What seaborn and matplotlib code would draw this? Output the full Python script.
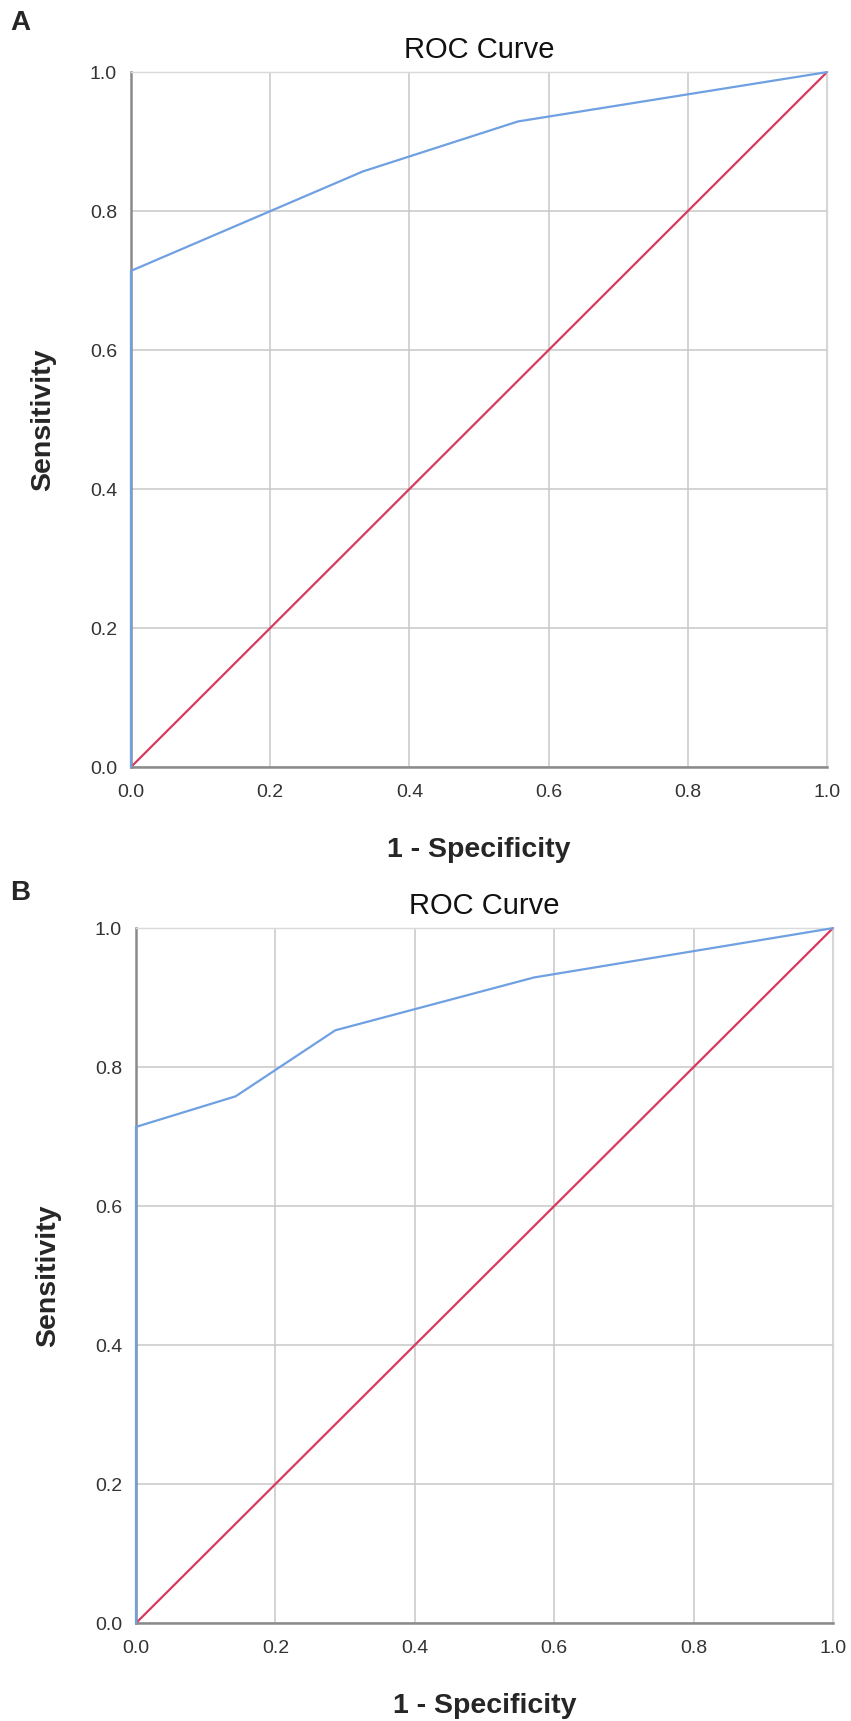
import matplotlib
matplotlib.use('Agg')
import matplotlib.pyplot as plt
import seaborn as sns
import pandas as pd

# ROC points
fpr_a = [0.0, 0.0, 0.333, 0.556, 1.0]
tpr_a = [0.0, 0.714, 0.857, 0.929, 1.0]

fpr_b = [0.0, 0.0, 0.143, 0.286, 0.571, 1.0]
tpr_b = [0.0, 0.714, 0.758, 0.853, 0.929, 1.0]

ref_line = [0.0, 1.0]
ticks = [0.0, 0.2, 0.4, 0.6, 0.8, 1.0]
tick_labels = ['0.0', '0.2', '0.4', '0.6', '0.8', '1.0']
panel_letters = ['A', 'B']

sns.set_style('white')
plt.rcParams['font.family'] = ['Liberation Sans', 'DejaVu Sans']

fig = plt.figure(figsize=(8.51, 17.21), dpi=100)
ax_a = fig.add_axes([0.1539, 0.5543, 0.8179, 0.4038])
ax_b = fig.add_axes([0.1598, 0.0569, 0.8190, 0.4038])

panels = [(ax_a, fpr_a, tpr_a), (ax_b, fpr_b, tpr_b)]

for ax, fpr, tpr in panels:
    ax.set_axisbelow(True)
    ax.grid(True, color='#c8c8c8', linewidth=1.1)
    ref = pd.DataFrame({'x': ref_line, 'y': ref_line})
    sns.lineplot(data=ref, x='x', y='y', ax=ax, color='#d8395f',
                 linewidth=1.6, sort=False, estimator=None, clip_on=False)
    curve = pd.DataFrame({'x': fpr, 'y': tpr})
    sns.lineplot(data=curve, x='x', y='y', ax=ax, color='#6fa0e2',
                 linewidth=1.6, sort=False, estimator=None, zorder=3,
                 clip_on=False)
    ax.set_xlim(0, 1)
    ax.set_ylim(0, 1)
    ax.set_xticks(ticks)
    ax.set_yticks(ticks)
    ax.set_xticklabels(tick_labels)
    ax.set_yticklabels(tick_labels)
    ax.tick_params(length=0, labelsize=14, labelcolor='#333333')
    ax.tick_params(axis='x', pad=12)
    ax.tick_params(axis='y', pad=10)
    for side in ['left', 'bottom']:
        ax.spines[side].set_color('#8a8a8a')
        ax.spines[side].set_linewidth(1.8)
    for side in ['top', 'right']:
        ax.spines[side].set_color('#dadada')
        ax.spines[side].set_linewidth(1.0)
    ax.set_title('ROC Curve', fontsize=21, pad=10, color='#111111')
    ax.set_xlabel('1 - Specificity', fontsize=20.5, fontweight='bold', labelpad=26)
    ax.set_ylabel('Sensitivity', fontsize=20.5, fontweight='bold', labelpad=24)

fig.text(0.012, 1 - 23 / 1721, panel_letters[0], fontsize=20, fontweight='bold', va='center')
fig.text(0.012, 1 - 893 / 1721, panel_letters[1], fontsize=20, fontweight='bold', va='center')

fig.savefig('out.png', dpi=100)
